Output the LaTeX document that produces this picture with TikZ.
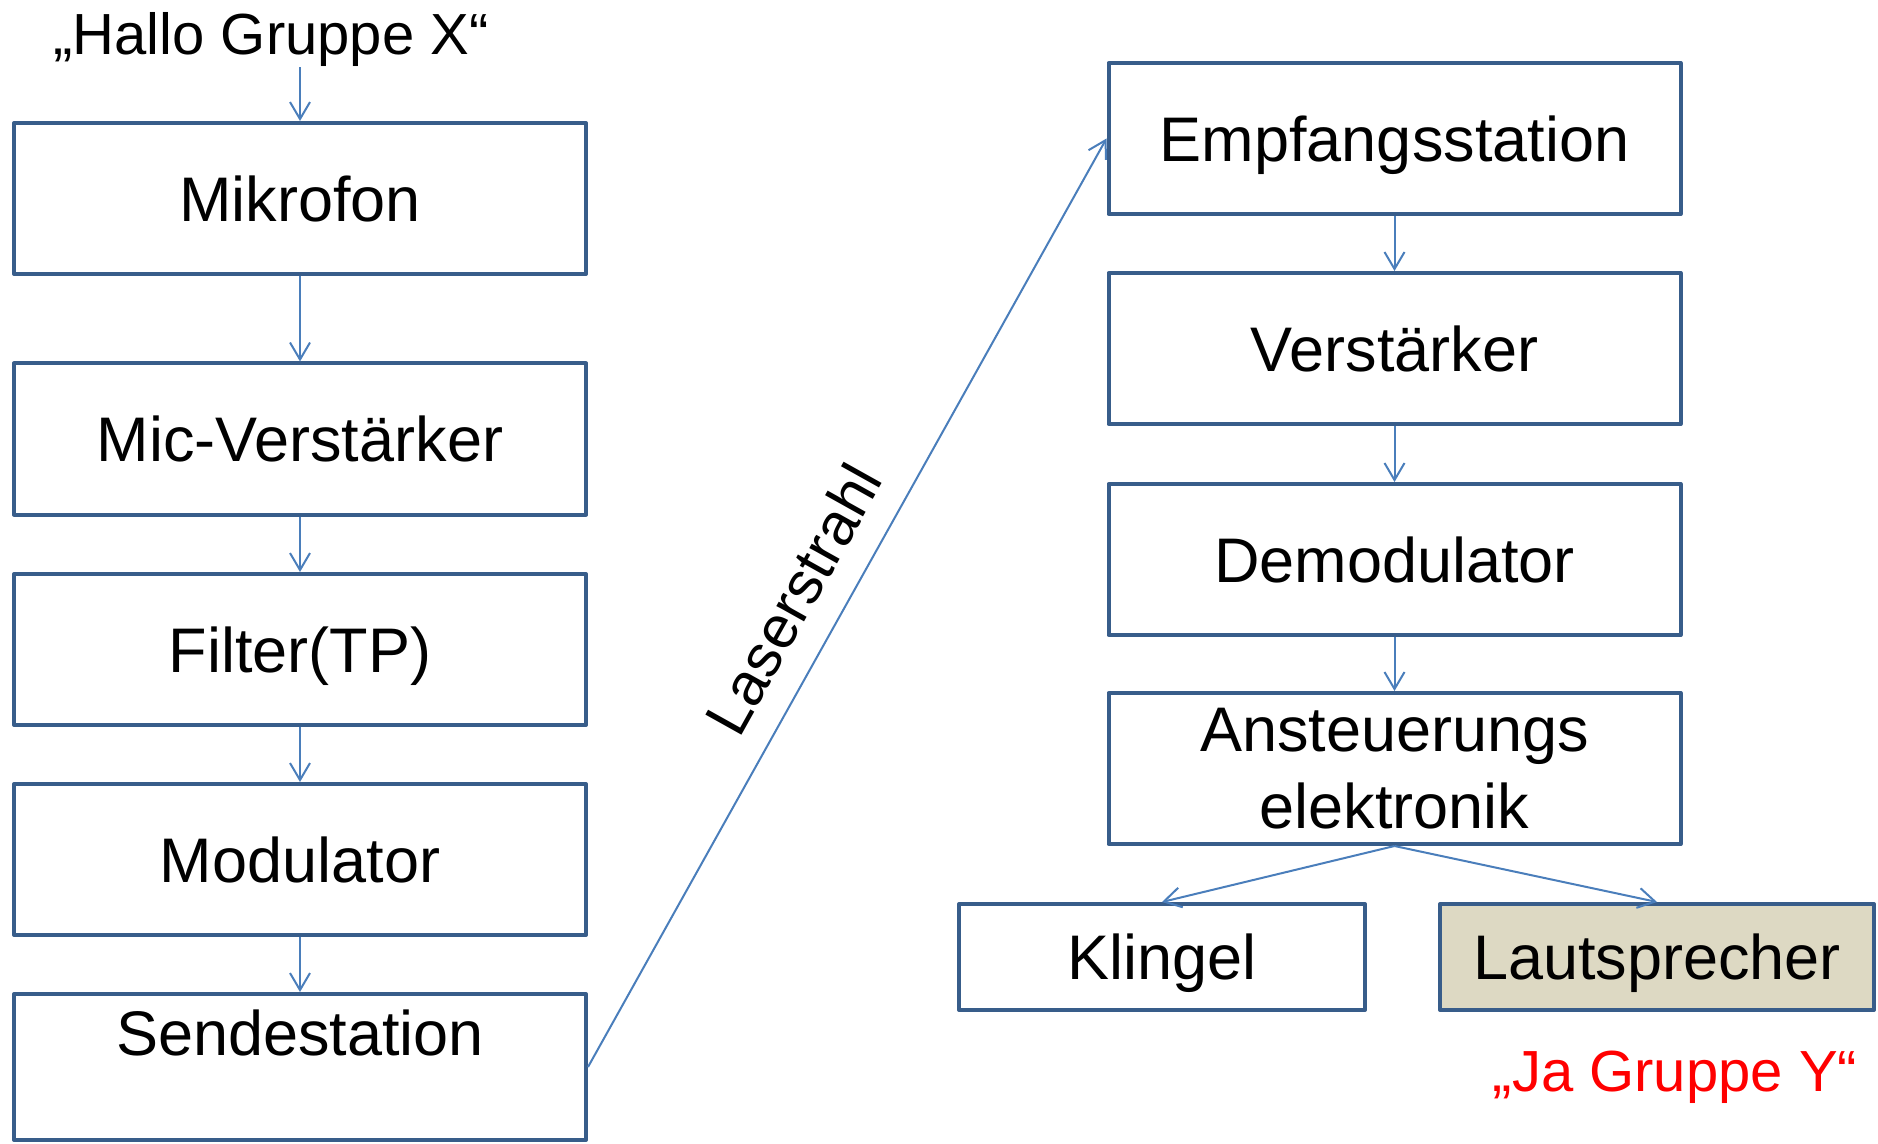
\documentclass[tikz,border=0pt]{standalone}
\usepackage{fontspec}
\setmainfont{Liberation Sans}
\usetikzlibrary{arrows.meta}
\definecolor{boxline}{HTML}{385D8A}
\definecolor{arrowc}{HTML}{4A7EBB}
\definecolor{beige}{HTML}{DDD9C3}
\definecolor{redtext}{HTML}{FF0000}
\begin{document}
\begin{tikzpicture}[x=0.5pt,y=-0.5pt,
  basebox/.style={draw=boxline, line width=2pt, line join=round, inner sep=0pt,
    minimum width=286pt, minimum height=75.5pt,
    font=\fontsize{31.5}{38.5}\selectfont},
  box/.style={basebox, text height=22.6pt, text depth=0pt},
  smallbox/.style={box, minimum height=53pt},
  plaintext/.style={inner sep=0pt, font=\fontsize{31.5}{38.5}\selectfont, text height=22.6pt, text depth=0pt},
  quote/.style={inner sep=0pt, font=\fontsize{29}{34}\selectfont},
  flow/.style={draw=arrowc, line width=1pt, -{Straight Barb[length=8.5pt, width=10pt, line width=1pt]}}
]
\useasboundingbox (0,0) rectangle (1878,1144);

% left column
\node[quote, anchor=base] (hallo) at (271,55) {„Hallo Gruppe X“};
\node[box] (mik) at (300,198.5) {Mikrofon};
\node[box] (micv) at (300,439) {Mic-Verstärker};
\node[box] (filt) at (300,649.5) {Filter(TP)};
\node[box] (mod) at (300,859.5) {Modulator};
\node[basebox, minimum height=73pt] (send) at (300,1067) {};
\node[plaintext] (sendt) at (300,1033) {Sendestation};

% right column
\node[box] (emp) at (1394.5,138.5) {Empfangsstation};
\node[box] (ver) at (1394.5,348.5) {Verstärker};
\node[box] (dem) at (1394.5,559.5) {Demodulator};
\node[basebox, align=center] (anst) at (1394.5,768.5) {Ansteuerungs\\elektronik};
\node[smallbox, minimum width=203pt] (kling) at (1162,957) {Klingel};
\node[smallbox, minimum width=217pt, fill=beige] (laut) at (1657,957) {Lautsprecher};
\node[quote, anchor=base, text=redtext] (ja) at (1675,1091) {„Ja Gruppe Y“};

% connectors
\draw[flow] (mik.north |- hallo.south) -- (mik.north);
\draw[flow] (mik) -- (micv);
\draw[flow] (micv) -- (filt);
\draw[flow] (filt) -- (mod);
\draw[flow] (mod) -- (send);
\draw[flow] (send.east) -- (emp.west)
  node[sloped, above=13pt, pos=0.478, inner sep=0pt, font=\fontsize{30}{36}\selectfont, text=black] (laser) {Laserstrahl};
\draw[flow] (emp) -- (ver);
\draw[flow] (ver) -- (dem);
\draw[flow] (dem) -- (anst);
\draw[flow] (anst.south) -- (kling.north);
\draw[flow] (anst.south) -- (laut.north);
\end{tikzpicture}
\end{document}
